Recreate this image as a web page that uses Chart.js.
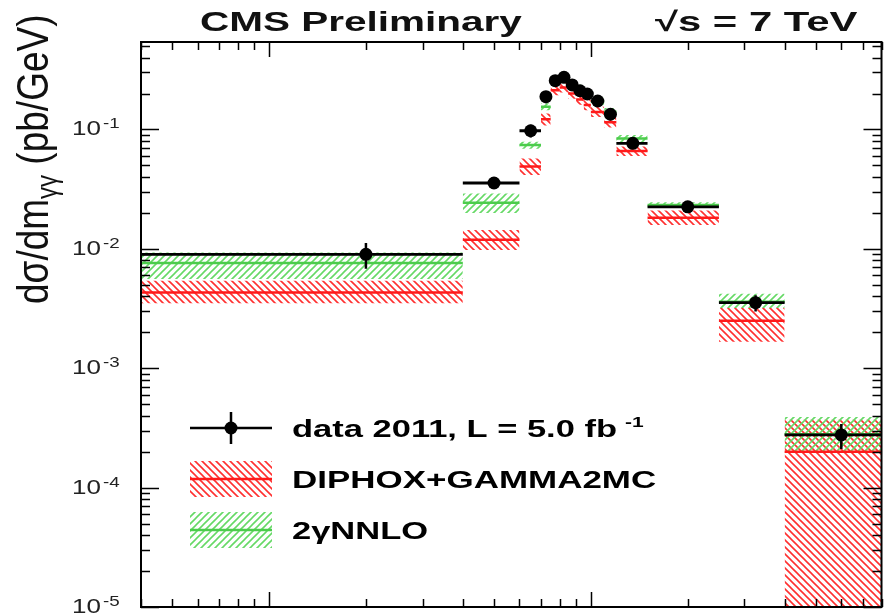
<!DOCTYPE html>
<html>
<head>
<meta charset="utf-8">
<script src="https://cdn.jsdelivr.net/npm/chart.js@4.4.0/dist/chart.umd.min.js"></script>
<style>
html, body { margin: 0; padding: 0; background: #fff; }
#wrap { width: 888px; height: 616px; position: relative; }
</style>
</head>
<body>
<div id="wrap"><canvas id="xsec"></canvas></div>
<script>
// diphoton mass bins (GeV)
var binEdges = [0, 40, 60, 70, 75, 80, 85, 90, 95, 100, 110, 120, 150, 250, 400, 800];

// measured cross section (pb/GeV) and its error
var dataVal = [0.0090, 0.0356, 0.0975, 0.188, 0.256, 0.273, 0.236, 0.211, 0.198, 0.173, 0.134, 0.0765, 0.0225, 0.00354, 0.000276];
var dataErr = [0.0022, 0.0030, 0.012, 0.022, 0.022, 0.022, 0.018, 0.016, 0.015, 0.012, 0.010, 0.006, 0.0016, 0.00055, 0.000065];

// DIPHOX+GAMMA2MC prediction with band
var diphoxVal = [0.0043, 0.0119, 0.049, 0.122, 0.213, 0.225, 0.200, 0.178, 0.160, 0.140, 0.115, 0.066, 0.0182, 0.0025, 0.00020];
var diphoxLo  = [0.0035, 0.0098, 0.0415, 0.108, 0.193, 0.204, 0.181, 0.161, 0.145, 0.127, 0.104, 0.060, 0.0158, 0.00167, 0.0000001];
var diphoxHi  = [0.0054, 0.0144, 0.057, 0.136, 0.235, 0.247, 0.220, 0.196, 0.177, 0.155, 0.127, 0.072, 0.0209, 0.0032, 0.00037];

// 2gNNLO prediction with band
var nnloVal = [0.0076, 0.0243, 0.074, 0.155, 0.262, 0.268, 0.242, 0.222, 0.202, 0.172, 0.141, 0.084, 0.0233, 0.0036, 0.00028];
var nnloLo  = [0.0056, 0.0200, 0.069, 0.145, 0.245, 0.250, 0.226, 0.207, 0.188, 0.160, 0.131, 0.078, 0.0222, 0.0032, 0.000195];
var nnloHi  = [0.0093, 0.0290, 0.079, 0.166, 0.280, 0.287, 0.259, 0.237, 0.216, 0.184, 0.151, 0.090, 0.0245, 0.0042, 0.00039];

var yTickExp = [-5, -4, -3, -2, -1];
var xRange = [4, 800];
var yRange = [1e-5, 0.54];

var RED = '#ff1a1a', GREEN = '#4ccc4c';

// flat segment per bin, broken between bins
function binSteps(vals) {
  var pts = [];
  for (var i = 0; i < vals.length; i++) {
    pts.push({x: binEdges[i], y: vals[i]}, {x: binEdges[i + 1], y: vals[i]}, {x: binEdges[i + 1], y: null});
  }
  return pts;
}
function binCentres(vals) {
  return vals.map(function (v, i) { return {x: (binEdges[i] + binEdges[i + 1]) / 2, y: v}; });
}
function errBars(vals, errs) {
  var pts = [];
  vals.forEach(function (v, i) {
    var c = (binEdges[i] + binEdges[i + 1]) / 2;
    pts.push({x: c, y: v - errs[i]}, {x: c, y: v + errs[i]}, {x: c, y: null});
  });
  return pts;
}

function hatch(color, forward) {
  var s = 7, c = document.createElement('canvas');
  c.width = s; c.height = s;
  var g = c.getContext('2d');
  g.strokeStyle = color; g.lineWidth = 1.6;
  g.beginPath();
  if (forward) {
    g.moveTo(0, s); g.lineTo(s, 0);
    g.moveTo(-1, 1); g.lineTo(1, -1);
    g.moveTo(s - 1, s + 1); g.lineTo(s + 1, s - 1);
  } else {
    g.moveTo(0, 0); g.lineTo(s, s);
    g.moveTo(-1, s - 1); g.lineTo(1, s + 1);
    g.moveTo(s - 1, -1); g.lineTo(s + 1, 1);
  }
  g.stroke();
  return g.createPattern(c, 'repeat');
}
var redHatch = hatch('#ff3030', false);
var greenHatch = hatch('#66d966', true);

function line(data, color, width) {
  return {type: 'line', data: data, borderColor: color, borderWidth: width, pointRadius: 0,
          fill: false, spanGaps: false, tension: 0};
}
function band(hi, lo, pattern) {
  return [
    {type: 'line', data: binSteps(hi), borderWidth: 0, borderColor: 'rgba(0,0,0,0)', pointRadius: 0,
     fill: '+1', backgroundColor: pattern, spanGaps: false},
    {type: 'line', data: binSteps(lo), borderWidth: 0, borderColor: 'rgba(0,0,0,0)', pointRadius: 0,
     fill: false, spanGaps: false}
  ];
}

// earlier datasets are drawn on top
var datasets = [
  {type: 'scatter', data: binCentres(dataVal), pointRadius: 6.5, pointBackgroundColor: '#000',
   pointBorderColor: '#000', pointBorderWidth: 0},
  line(errBars(dataVal, dataErr), '#000', 2.5),
  line(binSteps(dataVal), '#000', 2.8),
  line(binSteps(nnloVal), GREEN, 2.5),
  line(binSteps(diphoxVal), RED, 2.5)
].concat(band(nnloHi, nnloLo, greenHatch), band(diphoxHi, diphoxLo, redHatch));

function stretchText(ctx, txt, x, y, font, sx, align) {
  ctx.save();
  ctx.font = font;
  ctx.translate(x, y);
  ctx.scale(sx, 1);
  ctx.textAlign = align || 'left';
  ctx.textBaseline = 'alphabetic';
  ctx.fillText(txt, 0, 0);
  var w = ctx.measureText(txt).width * sx;
  ctx.restore();
  return w;
}

var decor = {
  id: 'decor',
  afterDraw: function (chart) {
    var ctx = chart.ctx, a = chart.chartArea, xs = chart.scales.x, ys = chart.scales.y;
    ctx.save();
    ctx.strokeStyle = '#000';
    ctx.fillStyle = '#000';

    // frame
    ctx.lineWidth = 2;
    ctx.strokeRect(a.left, a.top, a.right - a.left, a.bottom - a.top);

    // ticks on all four sides, pointing inwards
    ctx.lineWidth = 1.5;
    ctx.beginPath();
    for (var e = -6; e <= 0; e++) {
      for (var m = 1; m <= 9; m++) {
        var v = m * Math.pow(10, e);
        if (v < yRange[0] * 0.999 || v > yRange[1]) continue;
        var py = Math.round(ys.getPixelForValue(v)) + 0.5;
        var len = m === 1 ? 18 : 9;
        ctx.moveTo(a.left, py); ctx.lineTo(a.left + len, py);
        ctx.moveTo(a.right, py); ctx.lineTo(a.right - len, py);
      }
    }
    for (e = 0; e <= 3; e++) {
      for (m = 1; m <= 9; m++) {
        v = m * Math.pow(10, e);
        if (v < xRange[0] || v > xRange[1]) continue;
        var px = Math.round(xs.getPixelForValue(v)) + 0.5;
        len = m === 1 ? 15 : 8;
        ctx.moveTo(px, a.bottom); ctx.lineTo(px, a.bottom - len);
        ctx.moveTo(px, a.top); ctx.lineTo(px, a.top + len);
      }
    }
    ctx.stroke();

    // y tick labels 10^n
    ctx.fillStyle = '#222';
    yTickExp.forEach(function (n) {
      var py = ys.getPixelForValue(Math.pow(10, n));
      stretchText(ctx, '10', 101, py + 6, '20px "Liberation Sans", Arial, sans-serif', 1.3, 'right');
      stretchText(ctx, '-' + Math.abs(n), 103, py - 1, '15px "Liberation Sans", Arial, sans-serif', 1.25, 'left');
    });

    // y axis title
    ctx.fillStyle = '#111';
    ctx.save();
    ctx.translate(48, 304);
    ctx.rotate(-Math.PI / 2);
    ctx.scale(1, 1.22);
    ctx.textBaseline = 'alphabetic';
    ctx.font = '37px "Liberation Sans", Arial, sans-serif';
    var xo = 0;
    ctx.fillText('d\u03c3/dm', xo, 0);
    xo += ctx.measureText('d\u03c3/dm').width;
    ctx.font = '24px "Liberation Sans", Arial, sans-serif';
    ctx.fillText('\u03b3\u03b3', xo, 7);
    xo += ctx.measureText('\u03b3\u03b3').width;
    ctx.font = '37px "Liberation Sans", Arial, sans-serif';
    ctx.fillText(' (pb/GeV)', xo, 0);
    ctx.restore();

    // header
    var bold27 = 'bold 27px "Liberation Sans", Arial, sans-serif';
    stretchText(ctx, 'CMS Preliminary', 200, 31, bold27, 1.5);
    stretchText(ctx, '\u221as = 7 TeV', 655, 31, bold27, 1.55);

    // legend
    var bold23 = 'bold 23px "Liberation Sans", Arial, sans-serif';
    ctx.strokeStyle = '#000'; ctx.lineWidth = 2.5;
    ctx.beginPath();
    ctx.moveTo(190, 428); ctx.lineTo(272, 428);
    ctx.moveTo(231, 412); ctx.lineTo(231, 444);
    ctx.stroke();
    ctx.beginPath(); ctx.arc(231, 428, 6.5, 0, Math.PI * 2); ctx.fillStyle = '#000'; ctx.fill();
    var w = stretchText(ctx, 'data 2011, L = 5.0 fb', 292, 437, bold23, 1.5);
    stretchText(ctx, '-1', 292 + w + 8, 427, 'bold 15px "Liberation Sans", Arial, sans-serif', 1.4);

    ctx.fillStyle = redHatch; ctx.fillRect(190, 461, 82, 36);
    ctx.strokeStyle = RED; ctx.lineWidth = 2.5;
    ctx.beginPath(); ctx.moveTo(190, 479); ctx.lineTo(272, 479); ctx.stroke();
    ctx.fillStyle = '#000';
    stretchText(ctx, 'DIPHOX+GAMMA2MC', 292, 488, bold23, 1.52);

    ctx.fillStyle = greenHatch; ctx.fillRect(190, 512, 82, 36);
    ctx.strokeStyle = GREEN;
    ctx.beginPath(); ctx.moveTo(190, 530); ctx.lineTo(272, 530); ctx.stroke();
    ctx.fillStyle = '#000';
    stretchText(ctx, '2\u03b3NNLO', 292, 539, bold23, 1.5);

    ctx.restore();
  }
};

new Chart(document.getElementById('xsec'), {
  data: {datasets: datasets},
  options: {
    responsive: true,
    maintainAspectRatio: false,
    animation: false,
    layout: {padding: {left: 141, top: 42, right: 3, bottom: 9}},
    plugins: {legend: {display: false}, tooltip: {enabled: false}},
    scales: {
      x: {type: 'logarithmic', min: xRange[0], max: xRange[1], display: false},
      y: {type: 'logarithmic', min: yRange[0], max: yRange[1], display: false}
    }
  },
  plugins: [decor]
});
</script>
</body>
</html>
